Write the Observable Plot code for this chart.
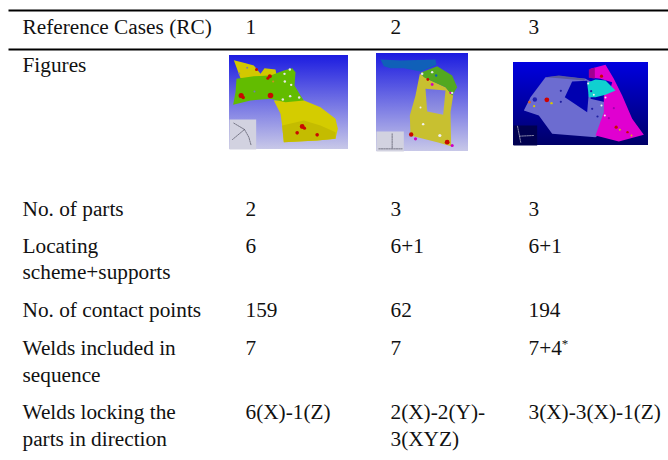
<!DOCTYPE html>
<html><head><meta charset="utf-8">
<script src="https://cdn.jsdelivr.net/npm/d3@7"></script>
<script src="https://cdn.jsdelivr.net/npm/@observablehq/plot@0.6"></script>
<style>html,body{margin:0;padding:0;background:#fff;overflow:hidden}svg{display:block}</style>
</head><body><div id="chart"></div>
<script>
// table text: [column position, row baseline, label]
const columnX = [22, 245, 390, 528];
const cells = [
  [0,33,"Reference Cases (RC)"],[1,33,"1"],[2,33,"2"],[3,33,"3"],
  [0,71,"Figures"],
  [0,215,"No. of parts"],[1,215,"2"],[2,215,"3"],[3,215,"3"],
  [0,252.5,"Locating"],[0,278.5,"scheme+supports"],[1,252.5,"6"],[2,252.5,"6+1"],[3,252.5,"6+1"],
  [0,316.5,"No. of contact points"],[1,316.5,"159"],[2,316.5,"62"],[3,316.5,"194"],
  [0,354,"Welds included in"],[0,381,"sequence"],[1,354,"7"],[2,354,"7"],[3,354,"7+4*"],
  [0,418,"Welds locking the"],[0,445,"parts in direction"],[1,418,"6(X)-1(Z)"],[2,418,"2(X)-2(Y)-"],[2,445,"3(XYZ)"],[3,418,"3(X)-3(X)-1(Z)"]
];
const ruleRows = [10, 49];

// figure frames [x1,y1,x2,y2,gradient]
const frames = [[229,55,348,149,"url(#g1)"],[376,53,468,151,"url(#g2)"],[513,62,648,145,"url(#g3)"]];
const origins = {a:[220,45],b:[370,45],c:[505,55]};

// shapes measured on the crops (3x): [origin, fill, points]
const shapes = [
 ["a","#d2d2e0",[[27,222],[107,222],[107,312],[27,312]]],
 ["a","#d2c800",[[40,44],[70,52],[100,60],[120,85],[132,68],[165,72],[170,98],[60,98]]],
 ["a","#d4cc00",[[160,165],[245,163],[300,185],[345,220],[352,250],[345,280],[290,285],[190,290],[185,240],[180,205]]],
 ["a","#c4bc00",[[185,240],[250,225],[300,240],[345,260],[345,280],[290,285],[190,290]]],
 ["a","#62bc00",[[48,100],[100,92],[150,90],[190,75],[215,68],[225,80],[222,120],[240,150],[250,165],[195,170],[150,160],[90,165],[38,178],[45,140]]],
 ["b","#d2d2e0",[[18,258],[100,258],[100,318],[18,318]]],
 ["b","#1060b8",[[30,42],[90,45],[195,42],[198,58],[175,68],[150,78],[100,68],[60,68],[40,62]]],
 ["b","#c8c030",[[148,85],[170,100],[225,125],[248,150],[240,200],[242,302],[200,290],[120,270],[118,210],[135,150]]],
 ["b","url(#g2h)",[[165,130],[225,135],[218,208],[170,198]]],
 ["b","#52a820",[[150,82],[200,62],[245,90],[260,125],[245,150],[225,125],[180,105],[160,95]]],
 ["c","#000050",[[24,210],[95,210],[95,270],[24,270]]],
 ["c","#6c6cd0",[[120,65],[160,62],[240,70],[260,80],[255,130],[300,140],[290,230],[270,245],[140,235],[100,180],[55,165],[75,125]]],
 ["c","#5a5a9c",[[120,65],[160,60],[240,70],[235,75],[160,68]]],
 ["c","#0000b0",[[200,78],[245,76],[250,110],[245,170],[215,150],[178,125]]],
 ["c","#e000d0",[[255,40],[300,28],[325,70],[350,120],[380,190],[415,238],[340,258],[270,240],[295,170],[295,120],[315,100],[320,80],[285,70],[250,65]]],
 ["c","#a00090",[[250,42],[268,36],[268,70],[250,66]]],
 ["c","#10d0d0",[[245,82],[270,72],[300,75],[330,105],[300,118],[270,125],[250,125]]]
];
const axisLines = [
 ["a",[[40,233],[72,252],[85,275],[92,300]]],["a",[[72,252],[36,282]]],
 ["b",[[65,265],[65,310]]],["b",[[25,310],[95,310]]],
 ["c",[[36,212],[46,262]]],["c",[[42,242],[85,240]]]
];
// spot welds: [origin, x, y, colour, radius]
const spots = [
 ["a",62,150,"#c80a00",2.6],["a",68,156,"#c80a00",1.8],["a",150,150,"#c80a00",2.8],["a",245,243,"#c80a00",2.4],["a",252,248,"#c80a00",1.6],["a",230,262,"#c80a00",1.8],["a",290,268,"#c80a00",1.8],["a",148,92,"#c80a00",2],["a",142,98,"#c80a00",1.5],["a",108,72,"#c80a00",1.5],
 ["a",208,72,"#e8e8e8",1.2],["a",192,85,"#e8e8e8",1.2],["a",193,108,"#e8e8e8",1.2],["a",212,118,"#e8e8e8",1.2],["a",209,152,"#e8e8e8",1.2],["a",187,162,"#e8e8e8",1.2],["a",236,156,"#e8e8e8",1.2],
 ["a",80,67,"#8080a0",1],["a",56,84,"#8080a0",1],["a",102,138,"#7080b0",1],["a",158,108,"#d09020",1.1],
 ["b",122,267,"#c80a00",2.2],["b",230,290,"#c80a00",2.4],["b",135,280,"#d000c0",1.6],["b",245,300,"#d000c0",1.6],["b",185,117,"#d000c0",1.4],["b",240,142,"#d000c0",1.2],["b",172,102,"#c80a00",1.4],
 ["b",155,85,"#e8e8e8",1.3],["b",185,80,"#e8e8e8",1.2],["b",197,90,"#1060b8",1.2],["b",245,142,"#e8e8e8",1.2],["b",208,270,"#f0f0f0",1.6],["b",158,236,"#f0f0f0",1.2],["b",150,186,"#f0f0f0",1],
 ["c",124,133,"#d00000",2.4],["c",88,132,"#2020b0",2.2],["c",72,140,"#e06020",1.3],["c",86,152,"#d8c800",1.1],["c",138,143,"#d8c800",1.2],
 ["c",288,62,"#c80a00",1.6],["c",332,215,"#c80a00",1.6],["c",343,223,"#d8c800",1],["c",366,230,"#c80a00",1.2],["c",378,240,"#d8c800",0.9],
 ["c",300,126,"#f0f0f0",1],["c",288,150,"#f0f0f0",1],["c",298,180,"#f0f0f0",1],["c",265,118,"#f0f0f0",1],["c",248,84,"#f0f0f0",1],
 ["c",166,106,"#2020a0",1.1],["c",166,139,"#2020a0",1.1],["c",260,160,"#2020a0",1.1],["c",276,183,"#2020a0",1.1],["c",257,107,"#2020a0",1.1],["c",325,158,"#a000b0",1.1],["c",310,188,"#a000b0",1.1]
];

const px = (o, v) => origins[o][0] + v / 3;
const py = (o, v) => origins[o][1] + v / 3;
const polyRows = shapes.flatMap(([o, fill, pts], id) => pts.map(([x, y]) => ({id, fill, x: px(o, x), y: py(o, y)})));
const axisRows = axisLines.flatMap(([o, pts], id) => pts.map(([x, y]) => ({id, x: px(o, x), y: py(o, y), dark: o === "c"})));

const gradient = (id, stops) => {
  const g = d3.create("svg:linearGradient").attr("id", id).attr("x1", 0).attr("y1", 0).attr("x2", 0).attr("y2", 1);
  stops.forEach(([o, c]) => g.append("stop").attr("offset", o).attr("stop-color", c));
  return g.node();
};
const defsMark = () => {
  const d = d3.create("svg:defs");
  d.append(() => gradient("g1", [[0, "#1c1ce0"], [1, "#c8c8e8"]]));
  d.append(() => gradient("g2", [[0, "#1c1ce0"], [1, "#c8c8e8"]]));
  d.append(() => gradient("g2h", [[0, "#7070e0"], [1, "#9898e0"]]));
  d.append(() => gradient("g3", [[0, "#0000e0"], [1, "#000068"]]));
  return d.node();
};

const plot = Plot.plot({
  width: 668, height: 460, margin: 0,
  x: {domain: [0, 668], range: [0, 668], axis: null},
  y: {domain: [0, 460], range: [0, 460], axis: null},
  r: {type: "identity"},
  style: {fontFamily: "'Liberation Serif'", background: "#fff", color: "#000"},
  marks: [
    defsMark,
    Plot.ruleY(ruleRows, {x1: 8.5, x2: 668, y: d => d, stroke: "#000", strokeWidth: 2}),
    Plot.rect(frames, {x1: d => d[0], y1: d => d[1], x2: d => d[2], y2: d => d[3], fill: d => d[4]}),
    ...d3.groups(polyRows, d => d.id).map(([, rows]) =>
      Plot.line(rows, {x: "x", y: "y", fill: rows[0].fill, stroke: "none", curve: "linear-closed"})),
    Plot.line(axisRows, {x: "x", y: "y", z: "id", stroke: d => d.dark ? "#c0c0d0" : "#505060", strokeWidth: 0.7, strokeDasharray: "1.5 1"}),
    Plot.dot(spots, {x: d => px(d[0], d[1]), y: d => py(d[0], d[2]), fill: d => d[3], r: d => d[4], stroke: "none"}),
    Plot.text(cells, {x: d => columnX[d[0]], y: d => d[1], text: d => d[2], textAnchor: "start", lineAnchor: "bottom", fontSize: 21.3, fill: "#111"})
  ]
});
// footnote mark on "7+4*" is a raised asterisk inside the same text
plot.querySelectorAll("text").forEach(t => {
  if (t.textContent === "7+4*") {
    t.textContent = "7+4";
    const s = document.createElementNS("http://www.w3.org/2000/svg", "tspan");
    s.setAttribute("font-size", "13"); s.setAttribute("dy", "-7"); s.textContent = "*";
    t.append(s);
  }
});
// the figures in the reference are soft, low-resolution bitmaps
plot.querySelectorAll("g[aria-label='line'], g[aria-label='dot']").forEach(g => g.style.filter = "blur(0.45px)");
document.getElementById("chart").append(plot);
</script></body></html>
